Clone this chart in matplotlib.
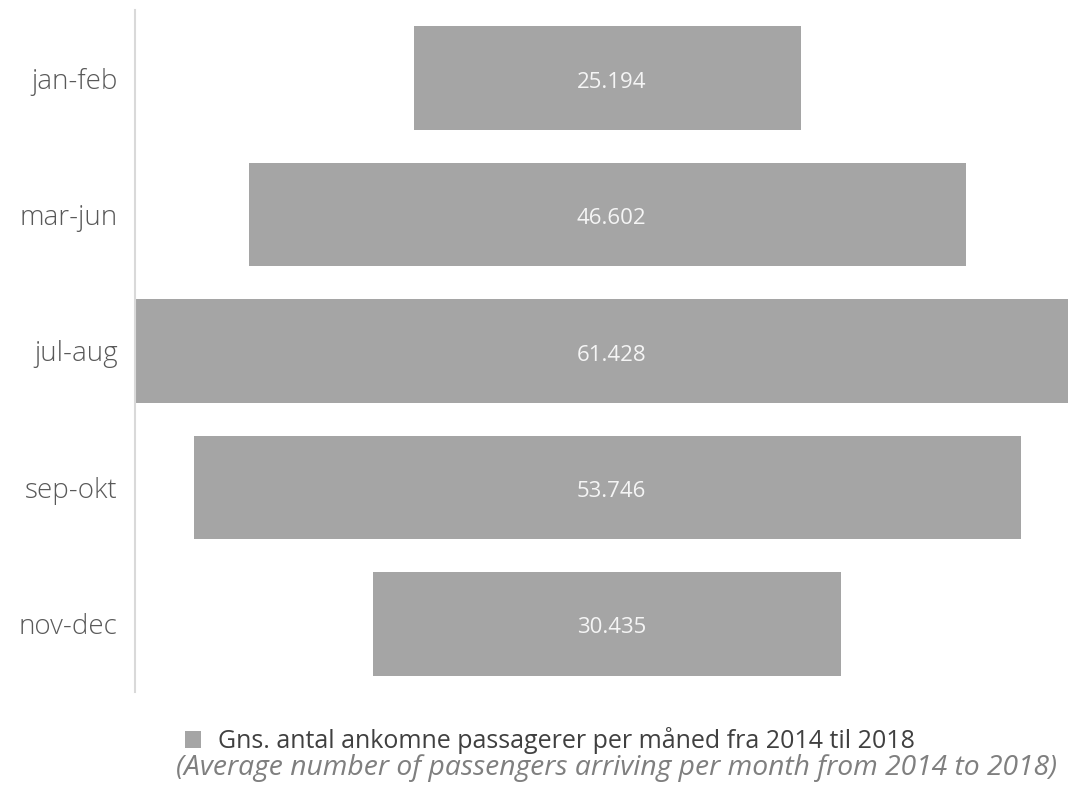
import matplotlib
matplotlib.use("Agg")
import matplotlib.pyplot as plt
from matplotlib.patches import Patch

# average monthly arriving passengers, 2014-2018
periods = ["jan-feb", "mar-jun", "jul-aug", "sep-okt", "nov-dec"]
passengers = [25194, 46602, 61428, 53746, 30435]
value_labels = ["25.194", "46.602", "61.428", "53.746", "30.435"]

legend_text = "Gns. antal ankomne passagerer per måned fra 2014 til 2018"
subtitle = "(Average number of passengers arriving per month from 2014 to 2018)"

bar_color = "#a5a5a5"
label_color = "#595959"
font = "Open Sans"

fig = plt.figure(figsize=(10.68, 7.91), dpi=100)
ax = fig.add_axes([135 / 1068, 99 / 791, 933 / 1068, 682 / 791])

# funnel: each bar centred on zero
ypos = list(range(len(periods)))
lefts = [-v / 2 for v in passengers]
ax.barh(ypos, passengers, left=lefts, height=0.76, color=bar_color)

for y, lab in zip(ypos, value_labels):
    ax.annotate(lab, (0, y), xytext=(3, -3), textcoords="offset points",
                ha="center", va="center", color="#f5f5f5",
                fontsize=16, family=font)

ax.set_xlim(-max(passengers) / 2, 29960)
ax.set_ylim(len(periods) - 0.5, -0.5)
ax.set_yticks(ypos)
ax.set_yticklabels(periods, family=font, fontsize=20, weight="light",
                   color=label_color)
ax.tick_params(axis="y", length=0, pad=12.5)
ax.set_xticks([])
for s in ["top", "right", "bottom"]:
    ax.spines[s].set_visible(False)
ax.spines["left"].set_color("#d9d9d9")
ax.spines["left"].set_linewidth(1.5)

handle = Patch(facecolor=bar_color, edgecolor="none")
fig.legend([handle], [legend_text], loc="center left",
           bbox_to_anchor=(185 / 1068, 1 - 741 / 791),
           frameon=False, borderpad=0, borderaxespad=0,
           prop={"family": font, "size": 18},
           handlelength=0.65, handleheight=0.65, handletextpad=0.68,
           labelcolor="#404040")
fig.text(616 / 1068, 1 - 768 / 791, subtitle, ha="center", va="center",
         family=font, style="italic", fontsize=20.3, color="#7f7f7f")

fig.savefig("out.png", dpi=100)
